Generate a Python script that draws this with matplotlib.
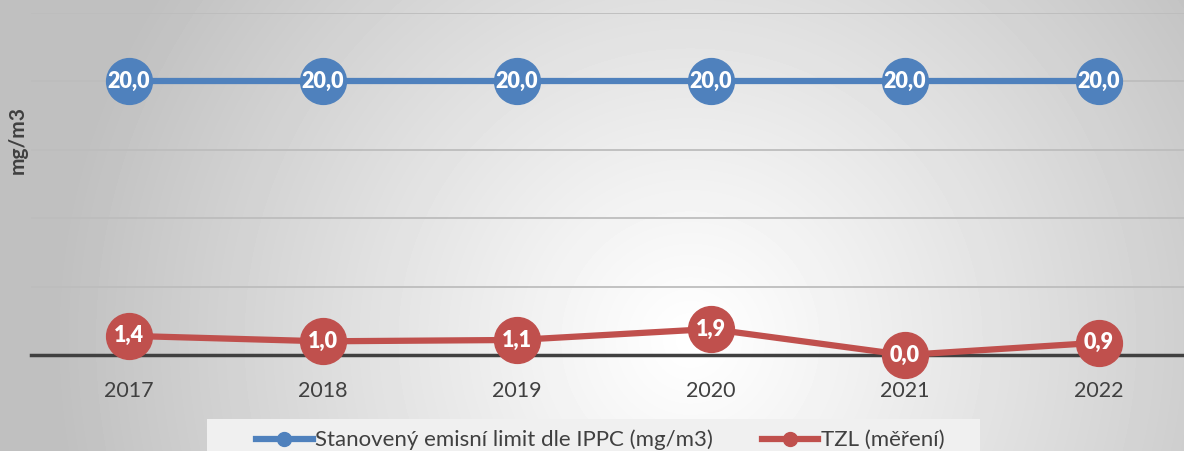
import numpy as np
import matplotlib
matplotlib.use("Agg")
import matplotlib.pyplot as plt
from matplotlib.lines import Line2D
from matplotlib.patches import Rectangle

# data
years = ['2017', '2018', '2019', '2020', '2021', '2022']
limit_ippc = [20.0, 20.0, 20.0, 20.0, 20.0, 20.0]
tzl = [1.4, 1.0, 1.1, 1.9, 0.0, 0.9]
label_limit = 'Stanovený emisní limit dle IPPC (mg/m3)'
label_tzl = 'TZL (měření)'

plt.rcParams['font.family'] = ['Lato', 'DejaVu Sans']

fig = plt.figure(figsize=(11.84, 4.51), dpi=100)

# fond en degrade radial
bg = fig.add_axes([0, 0, 1, 1], zorder=-10)
h, w = 451, 1184
yy, xx = np.mgrid[0:h, 0:w]
r = np.sqrt((xx - 690) ** 2 + (yy - 340) ** 2)
val = 1 - 0.25 * np.clip(r / 640, 0, 1) ** 1.1
bg.imshow(val, cmap='gray', vmin=0, vmax=1, aspect='auto', extent=[0, 1, 0, 1])
# cadre de la legende
bg.add_patch(Rectangle((207 / 1184, 0), (980 - 207) / 1184, 32 / 451,
                       facecolor='#f0f0f0', edgecolor='none', transform=bg.transAxes))
bg.axis('off')

ax = fig.add_axes([31 / 1184, 1 - 355 / 451, 1 - 31 / 1184 + 0.01, (355 - 13) / 451])
ax.patch.set_alpha(0)
x = np.arange(len(years))
blue = '#4f81bd'
red = '#c0504d'

ax.plot(x, limit_ippc, color=blue, lw=4.5, marker='o', ms=33, mec=blue, zorder=3, clip_on=False)
ax.plot(x, tzl, color=red, lw=4.5, marker='o', ms=33, mec=red, zorder=3, clip_on=False)
for serie in [limit_ippc, tzl]:
    for xi, v in zip(x, serie):
        ax.text(xi, v, f"{v:.1f}".replace('.', ','), color='white', fontsize=15.5,
                fontweight='heavy', ha='center', va='center', zorder=5, clip_on=False)

ax.set_xlim(-0.505, len(years) - 0.5)
ax.set_ylim(0, 25)
ax.set_yticks([5, 10, 15, 20, 25])
ax.yaxis.grid(True, color='#bdbdbd', lw=1.3)
ax.set_axisbelow(True)
ax.tick_params(axis='y', length=0, labelleft=False)
ax.set_xticks(x)
ax.set_xticklabels(years, fontsize=15.5, color='#404040')
ax.tick_params(axis='x', length=0, pad=19)
for s in ['top', 'right', 'left']:
    ax.spines[s].set_visible(False)
ax.spines['bottom'].set_color('#404040')
ax.spines['bottom'].set_linewidth(2.5)
ax.spines['bottom'].set_zorder(2.5)

fig.text(18 / 1184, 1 - 140 / 451, 'mg/m3', rotation=90, fontsize=15, fontweight='bold',
         color='#404040', ha='center', va='center')

handles = [Line2D([], [], color=blue, lw=4.5, marker='o', ms=10),
           Line2D([], [], color=red, lw=4.5, marker='o', ms=10)]
leg = fig.legend(handles, [label_limit, label_tzl], loc='center left',
                 bbox_to_anchor=(256 / 1184, 1 - 440 / 451), ncol=2, frameon=False, fontsize=16,
                 handlelength=2.55, handletextpad=0.1, columnspacing=2.2,
                 borderpad=0.0, borderaxespad=0.0)
for t in leg.get_texts():
    t.set_color('#404040')

fig.savefig('out.png', dpi=100)
